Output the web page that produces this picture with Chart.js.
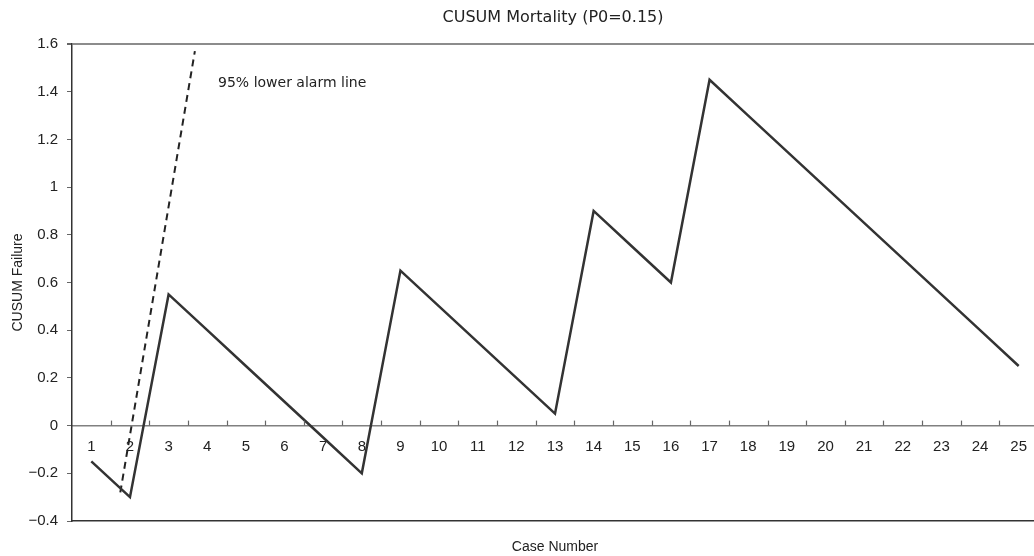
<!DOCTYPE html>
<html>
<head>
<meta charset="utf-8">
<script src="https://cdn.jsdelivr.net/npm/chart.js@4.4.0/dist/chart.umd.min.js"></script>
<style>
  html, body { margin: 0; padding: 0; background: #fff; overflow: hidden; }
  #wrap { width: 1106px; height: 556px; }
</style>
</head>
<body>
<div id="wrap"><canvas id="cusumChart" width="1106" height="556"></canvas></div>
<script>
// ---- data ----
const cases = ['1','2','3','4','5','6','7','8','9','10','11','12','13','14','15','16','17','18','19','20','21','22','23','24','25'];
const cusumValues = [-0.15, -0.30, 0.55, 0.40, 0.25, 0.10, -0.05, -0.20, 0.65, 0.50, 0.35, 0.20, 0.05,
                     0.90, 0.75, 0.60, 1.45, 1.30, 1.15, 1.00, 0.85, 0.70, 0.55, 0.40, 0.25];
const alarmCase = [1.75, 3.68];
const alarmValue = [-0.28, 1.57];
const yTicks = [-0.4, -0.2, 0, 0.2, 0.4, 0.6, 0.8, 1, 1.2, 1.4, 1.6];

const FONT = "'Liberation Sans', Arial, sans-serif";
const WIDE = "'DejaVu Sans', sans-serif";
const INK = '#222';

// label for the dashed line, and small upward ticks on the zero line
const annotations = {
    id: 'annotations',
    afterDatasetsDraw(chart) {
        const ctx = chart.ctx;
        const xb = chart.scales.xb;
        const y = chart.scales.y;
        ctx.save();
        ctx.fillStyle = INK;
        ctx.font = '14px ' + WIDE;
        ctx.textBaseline = 'middle';
        ctx.fillText('95% lower alarm line', xb.getPixelForValue(4.28), y.getPixelForValue(1.435));

        ctx.strokeStyle = '#666';
        ctx.lineWidth = 1.2;
        const y0 = y.getPixelForValue(0);
        for (let i = 1; i < cases.length; i++) {
            const px = Math.round(xb.getPixelForValue(i + 0.5)) + 0.5;
            ctx.beginPath();
            ctx.moveTo(px, y0);
            ctx.lineTo(px, y0 - 5);
            ctx.stroke();
        }
        ctx.restore();
    }
};

const ctx = document.getElementById('cusumChart').getContext('2d');
window.cusumChart = new Chart(ctx, {
    type: 'line',
    data: {
        labels: cases,
        datasets: [{
            label: 'CUSUM',
            data: cusumValues,
            xAxisID: 'x',
            yAxisID: 'y',
            borderColor: '#333',
            borderWidth: 2.5,
            pointRadius: 0,
            tension: 0,
            fill: false
        }, {
            label: 'alarm',
            data: alarmCase.map((c, i) => ({ x: c, y: alarmValue[i] })),
            xAxisID: 'xb',
            yAxisID: 'y',
            borderColor: '#222',
            borderWidth: 2,
            borderDash: [7, 5],
            pointRadius: 0,
            fill: false
        }]
    },
    options: {
        responsive: false,
        animation: false,
        layout: { padding: 0 },
        plugins: {
            legend: { display: false },
            tooltip: { enabled: false },
            title: {
                display: true,
                text: 'CUSUM Mortality (P0=0.15)',
                color: INK,
                font: { family: WIDE, size: 16, weight: 'normal' },
                padding: { top: 8, bottom: 16.8 }
            }
        },
        scales: {
            x: {
                type: 'category',
                position: { y: 0 },
                offset: true,
                grid: { display: false, drawTicks: false },
                border: { display: true, color: '#808080', width: 1.5 },
                ticks: {
                    color: INK,
                    padding: 12,
                    maxRotation: 0,
                    autoSkip: false,
                    font: { family: FONT, size: 15 }
                }
            },
            xb: {
                type: 'linear',
                position: 'bottom',
                min: 0.5,
                max: 25.5,
                grid: { display: false },
                border: { display: true, color: '#333', width: 1.5 },
                ticks: { display: false },
                title: {
                    display: true,
                    text: 'Case Number',
                    color: INK,
                    font: { family: FONT, size: 14 },
                    padding: 0
                },
                afterFit(scale) { scale.height = 35; }
            },
            y: {
                type: 'linear',
                position: 'left',
                min: -0.4,
                max: 1.6,
                afterBuildTicks(scale) { scale.ticks = yTicks.map(v => ({ value: v })); },
                grid: {
                    drawOnChartArea: true,
                    tickLength: 5,
                    tickColor: '#666',
                    color: c => (c.tick && c.tick.value === 1.6) ? '#8c8c8c' : 'rgba(0,0,0,0)',
                    lineWidth: c => (c.tick && c.tick.value === 1.6) ? 2 : 1
                },
                border: { display: true, color: '#333', width: 1.5 },
                ticks: {
                    color: INK,
                    padding: 9,
                    font: { family: FONT, size: 15 },
                    callback: v => String(Math.round(v * 10) / 10).replace('-', '\u2212')
                },
                title: {
                    display: true,
                    text: 'CUSUM Failure',
                    color: INK,
                    font: { family: FONT, size: 14 },
                    padding: { top: 10, bottom: 0 }
                },
                afterFit(scale) { scale.width = 72; }
            },
            yr: {
                type: 'linear',
                position: 'right',
                grid: { display: false },
                border: { display: false },
                ticks: { display: false },
                afterFit(scale) { scale.width = 68; }
            }
        }
    },
    plugins: [annotations]
});
</script>
</body>
</html>
